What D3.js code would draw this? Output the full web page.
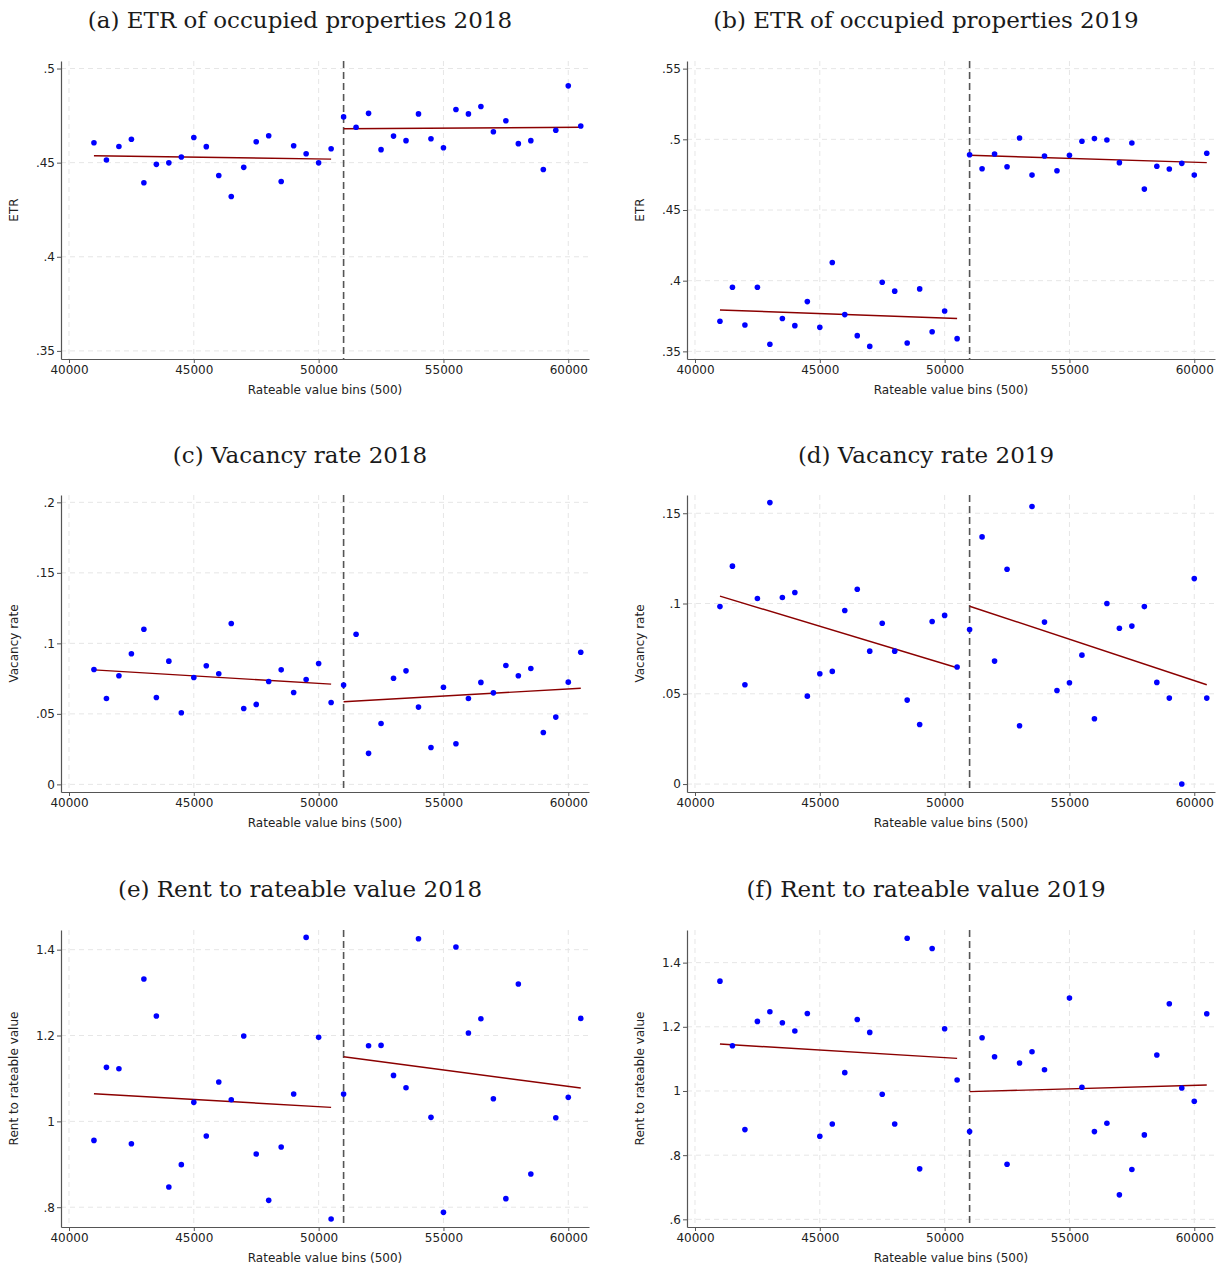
<!DOCTYPE html>
<html><head><meta charset="utf-8">
<script src="https://cdn.jsdelivr.net/npm/d3@7"></script>
<style>body{margin:0;background:#fff}svg{display:block}</style>
</head><body><svg id="c" width="1226" height="1271"></svg>
<script>
// ---- categories (rateable value bins) ----
const bins = [41000,41500,42000,42500,43000,43500,44000,44500,45000,45500,
              46000,46500,47000,47500,48000,48500,49000,49500,50000,50500,
              51000,51500,52000,52500,53000,53500,54000,54500,55000,55500,
              56000,56500,57000,57500,58000,58500,59000,59500,60000,60500];
const cutoff = 51000;
const fitXLeft = [41000, 50500];
const fitXRight = [51000, 60500];
const xTicks = [40000, 45000, 50000, 55000, 60000];

// ---- series values ----
const etr2018 = [.4606,.4514,.4586,.4624,.4393,.4491,.4499,.4530,.4634,.4585,
                 .4432,.4320,.4475,.4611,.4643,.4400,.4590,.4547,.4499,.4574,
                 .4743,.4688,.4762,.4569,.4641,.4617,.4759,.4627,.4579,.4782,
                 .4759,.4798,.4664,.4723,.4601,.4617,.4464,.4672,.4908,.4695];
const etr2019 = [.3713,.3954,.3687,.3954,.3550,.3732,.3682,.3852,.3670,.4129,
                 .3760,.3611,.3535,.3989,.3926,.3559,.3942,.3639,.3786,.3590,
                 .4891,.4792,.4896,.4806,.5009,.4747,.4882,.4778,.4887,.4986,
                 .5005,.4995,.4835,.4974,.4648,.4809,.4790,.4830,.4747,.4901];
const vac2018 = [.0815,.0609,.0770,.0926,.1100,.0616,.0874,.0508,.0758,.0841,
                 .0784,.1141,.0538,.0567,.0730,.0812,.0652,.0744,.0857,.0581,
                 .0704,.1065,.0220,.0432,.0753,.0805,.0548,.0262,.0689,.0288,
                 .0609,.0723,.0649,.0843,.0770,.0822,.0368,.0477,.0725,.0937];
const vac2019 = [.0983,.1207,.0550,.1028,.1559,.1033,.1061,.0487,.0611,.0624,
                 .0961,.1079,.0736,.0891,.0736,.0465,.0330,.0900,.0934,.0648,
                 .0856,.1369,.0681,.1190,.0323,.1537,.0897,.0518,.0561,.0714,
                 .0362,.1000,.0863,.0875,.0983,.0563,.0476,.0000,.1138,.0476];
const rent2018 = [.9557,1.1258,1.1227,.9480,1.3315,1.2453,.8470,.8991,1.0443,.9658,
                  1.0916,1.0505,1.1988,.9239,.8160,.9402,1.0637,1.4286,1.1957,.7725,
                  1.0637,null,1.1762,1.1770,1.1071,1.0784,1.4255,1.0093,.7880,1.4061,
                  1.2057,1.2391,1.0528,.8199,1.3199,.8773,null,1.0085,1.0559,1.2399];
const rent2019 = [1.3423,1.1411,.8797,1.2168,1.2469,1.2127,1.1867,1.2417,.8589,.8973,
                  1.0571,1.2230,1.1826,.9896,.8973,1.4761,.7573,1.4440,1.1940,1.0342,
                  .8734,1.1660,1.1068,.7718,1.0871,1.1224,1.0664,null,1.2894,1.0114,
                  .8734,.8994,.6763,.7552,.8631,1.1120,1.2718,1.0093,.9678,1.2407];

// ---- fitted line endpoints ----
const fitEtr2018L = [.4537,.4519],  fitEtr2018R = [.4680,.4688];
const fitEtr2019L = [.3793,.3732],  fitEtr2019R = [.4887,.4835];
const fitVac2018L = [.0812,.0711],  fitVac2018R = [.0586,.0682];
const fitVac2019L = [.1041,.0644],  fitVac2019R = [.0985,.0550];
const fitRent2018L = [1.0644,1.0326], fitRent2018R = [1.1506,1.0776];
const fitRent2019L = [1.1463,1.1017], fitRent2019R = [.9979,1.0187];

// ---- tick labels ----
const yTicksEtr2018 = [.35,.4,.45,.5];
const yTicksEtr2019 = [.35,.4,.45,.5,.55];
const yTicksVac2018 = [0,.05,.1,.15,.2];
const yTicksVac2019 = [0,.05,.1,.15];
const yTicksRent2018 = [.8,1,1.2,1.4];
const yTicksRent2019 = [.6,.8,1,1.2,1.4];

const titles = ["(a) ETR of occupied properties 2018","(b) ETR of occupied properties 2019",
                "(c) Vacancy rate 2018","(d) Vacancy rate 2019",
                "(e) Rent to rateable value 2018","(f) Rent to rateable value 2019"];
const yLabels = ["ETR","ETR","Vacancy rate","Vacancy rate","Rent to rateable value","Rent to rateable value"];
const xLabel = "Rateable value bins (500)";

const panels = [
  {vals:etr2018, fl:fitEtr2018L, fr:fitEtr2018R, ticks:yTicksEtr2018, dom:[.3457,.5040]},
  {vals:etr2019, fl:fitEtr2019L, fr:fitEtr2019R, ticks:yTicksEtr2019, dom:[.3446,.5554]},
  {vals:vac2018, fl:fitVac2018L, fr:fitVac2018R, ticks:yTicksVac2018, dom:[-.0054,.2052]},
  {vals:vac2019, fl:fitVac2019L, fr:fitVac2019R, ticks:yTicksVac2019, dom:[-.0044,.1601]},
  {vals:rent2018, fl:fitRent2018L, fr:fitRent2018R, ticks:yTicksRent2018, dom:[.7539,1.4458]},
  {vals:rent2019, fl:fitRent2019L, fr:fitRent2019R, ticks:yTicksRent2019, dom:[.5761,1.5017]}
];

// ---- layout ----
const colX = [[61,589],[687,1215]];
const rowY = [[61,359],[495,792],[930,1227]];
const titleY = [28,463,897];
const xDomain = [39680, 60830];

const svg = d3.select("#c");
const fmtY = d => d === 0 ? "0" : String(+d.toFixed(3)).replace(/^0\./,".");

panels.forEach((p,i) => {
  const col = i % 2, row = Math.floor(i/2);
  const [x0,x1] = colX[col], [y0,y1] = rowY[row];
  const x = d3.scaleLinear().domain(xDomain).range([x0,x1]);
  const y = d3.scaleLinear().domain(p.dom).range([y1,y0]);
  const g = svg.append("g");

  // title
  g.append("text").attr("x", col*626 + 300).attr("y", titleY[row])
    .attr("text-anchor","middle").attr("font-family","'DejaVu Serif',serif")
    .attr("font-size",23).attr("fill","#1a1a1a").text(titles[i]);

  // grid
  g.selectAll(".hg").data(p.ticks).join("line")
    .attr("x1",x0).attr("x2",x1).attr("y1",d=>y(d)).attr("y2",d=>y(d))
    .attr("stroke","#e6e6e6").attr("stroke-dasharray","5,4").attr("stroke-width",1);
  g.selectAll(".vg").data(xTicks).join("line")
    .attr("x1",d=>x(d)).attr("x2",d=>x(d)).attr("y1",y0).attr("y2",y1)
    .attr("stroke","#e6e6e6").attr("stroke-dasharray","5,4").attr("stroke-width",1);

  // axes
  const ya = g.append("g").attr("transform",`translate(${x0},0)`)
    .call(d3.axisLeft(y).tickValues(p.ticks).tickFormat(fmtY).tickSize(4).tickSizeOuter(0));
  const xa = g.append("g").attr("transform",`translate(0,${y1})`)
    .call(d3.axisBottom(x).tickValues(xTicks).tickFormat(d3.format("d")).tickSize(4).tickSizeOuter(0));
  [ya,xa].forEach(a => {
    a.select(".domain").attr("stroke","#555").attr("stroke-width",1.2);
    a.selectAll(".tick line").attr("stroke","#555");
    a.selectAll(".tick text").attr("font-family","'DejaVu Sans',sans-serif").attr("font-size",12).attr("fill","#222");
  });
  ya.selectAll(".tick text").attr("x",-6);
  xa.selectAll(".tick text").attr("y",6);

  // axis titles
  g.append("text").attr("x",(x0+x1)/2).attr("y",y1+35).attr("text-anchor","middle")
    .attr("font-family","'DejaVu Sans',sans-serif").attr("font-size",12).attr("fill","#222").text(xLabel);
  g.append("text").attr("transform",`translate(${x0-43},${(y0+y1)/2}) rotate(-90)`)
    .attr("text-anchor","middle").attr("font-family","'DejaVu Sans',sans-serif")
    .attr("font-size",12).attr("fill","#222").text(yLabels[i]);

  // cutoff
  g.append("line").attr("x1",x(cutoff)).attr("x2",x(cutoff)).attr("y1",y0).attr("y2",y1)
    .attr("stroke","#555").attr("stroke-width",1.6).attr("stroke-dasharray","7,4");

  // fit lines
  const line = d3.line().x(d=>x(d[0])).y(d=>y(d[1]));
  [[fitXLeft,p.fl],[fitXRight,p.fr]].forEach(([xs,ys]) => {
    g.append("path").datum(xs.map((v,k)=>[v,ys[k]])).attr("d",line)
      .attr("fill","none").attr("stroke","#8b0000").attr("stroke-width",1.4);
  });

  // points
  const pts = bins.map((b,k)=>({b, v:p.vals[k]})).filter(d=>d.v!==null);
  g.selectAll("circle").data(pts).join("circle")
    .attr("cx",d=>x(d.b)).attr("cy",d=>y(d.v)).attr("r",2.8).attr("fill","#0000ff");
});
</script>
</body></html>
